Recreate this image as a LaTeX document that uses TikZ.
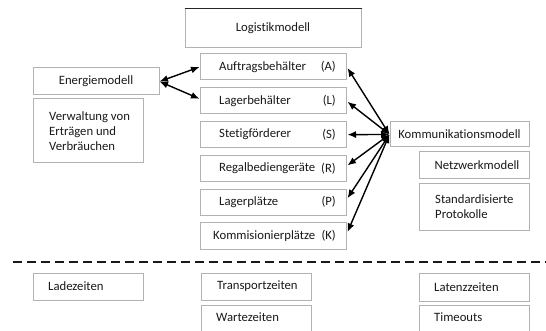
\documentclass[tikz,border=0pt]{standalone}
\usepackage{fontspec}
\setmainfont{Carlito}[Ligatures=NoCommon]
\usetikzlibrary{arrows.meta}
\begin{document}
\begin{tikzpicture}[x=1pt,y=-1pt,
  box/.style={draw=gray!60, line width=1pt, fill=white, inner sep=0pt},
  txt/.style={text=black!90, inner sep=0pt, font=\fontsize{12.7}{15}\selectfont},
  conn/.style={draw=black, line width=1.4pt,
    {Latex[length=8.5pt,width=7pt]}-{Latex[length=8.5pt,width=7pt]}},
  sep/.style={draw=black!90, line width=2.6pt, dash pattern=on 9pt off 5pt}]
\useasboundingbox (0,0) rectangle (546,331);

% logistics model and its components
\node[box, minimum width=176pt, minimum height=39pt] (logi) at (273,28.5) {};
\node[txt] (logit) at (273,28.5) {Logistikmodell};
\draw[black!85, line width=1pt] (logi.north west) -- (logi.north east);

\foreach \n/\y/\tag in {A/67/(A), L/100.8/(L), S/134.6/(S),
    R/168.4/(R), P/202.2/(P), K/236/(K)}{
  \node[box, minimum width=146pt, minimum height=26pt] (\n) at (273,\y) {};
  \node[txt, anchor=east] (\n tag) at (336,\y) {\tag};
}
\node[txt, anchor=west] (At) at (219,67) {Auftragsbehälter};
\node[txt, anchor=west] (Lt) at (219,100.8) {Lagerbehälter};
\node[txt, anchor=west] (St) at (219,134.6) {Stetigförderer};
\node[txt, anchor=west] (Rt) at (219,168.4) {Regalbediengeräte};
\node[txt, anchor=west] (Pt) at (219,202.2) {Lagerplätze};
\node[txt, anchor=west] (Kt) at (213,236) {Kommisionierplätze};

% energy model
\node[box, minimum width=126pt, minimum height=27pt] (energ) at (96,81.5) {};
\node[txt] (energt) at (96,81.5) {Energiemodell};
\node[box, minimum width=110pt, minimum height=64pt] (verw) at (88,131) {};
\node[txt, anchor=west, align=left] (verwt) at (49,131) {Verwaltung von\\Erträgen und\\Verbräuchen};

% communication model
\node[box, minimum width=139pt, minimum height=25pt] (kom) at (459.5,134.5) {};
\node[txt] (komt) at (459.5,134.5) {Kommunikationsmodell};
\node[box, minimum width=110pt, minimum height=27pt] (netz) at (474,165.5) {};
\node[txt] (netzt) at (477,165.5) {Netzwerkmodell};
\node[box, minimum width=110pt, minimum height=46pt] (std) at (474,207) {};
\node[txt, anchor=west, align=left] (stdt) at (435,207) {Standardisierte\\Protokolle};

% connections
\draw[conn] (energ.east) -- (A.west);
\draw[conn] (energ.east) -- ([yshift=2pt]L.west);
\draw[conn] (kom.west) -- ([xshift=1pt,yshift=-1pt]A.east);
\draw[conn] (kom.west) -- ([xshift=1pt,yshift=-1pt]L.east);
\draw[conn] (kom.west) -- ([xshift=1pt]S.east);
\draw[conn] (kom.west) -- ([xshift=1pt,yshift=3pt]R.east);
\draw[conn] (kom.west) -- ([xshift=1pt,yshift=4pt]P.east);
\draw[conn] (kom.west) -- ([xshift=1pt,yshift=4pt]K.east);

% separator
\coordinate (sl) at (13,262);
\coordinate (sr) at (546,262);
\draw[sep] (sl) -- (sr);

% time quantities
\node[box, minimum width=110pt, minimum height=27pt] (lade) at (88,286.5) {};
\node[txt, anchor=west] (ladet) at (48,286.5) {Ladezeiten};
\node[box, minimum width=110pt, minimum height=27pt] (trans) at (256,286.5) {};
\node[txt, anchor=west] (transt) at (217,286.5) {Transportzeiten};
\node[box, minimum width=110pt, minimum height=28pt] (warte) at (256,319) {};
\node[txt, anchor=west] (wartet) at (216,317.5) {Wartezeiten};
\node[box, minimum width=110pt, minimum height=28pt] (late) at (474,287) {};
\node[txt, anchor=west] (latet) at (434,287) {Latenzzeiten};
\node[box, minimum width=110pt, minimum height=28pt] (time) at (474,319) {};
\node[txt, anchor=west] (timet) at (434,317.5) {Timeouts};
\end{tikzpicture}
\end{document}
